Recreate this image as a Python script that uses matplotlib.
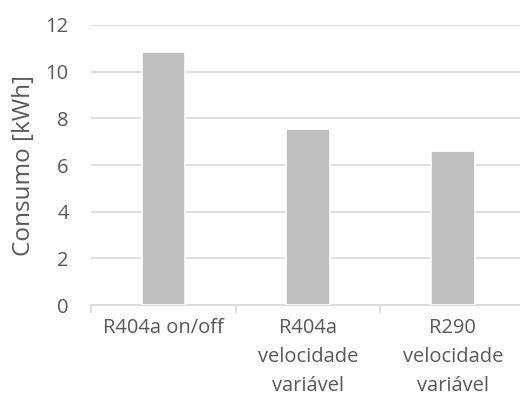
import matplotlib.pyplot as plt
import numpy as np

# consumption per configuration
categorias = ["R404a on/off", "R404a\nvelocidade\nvariável", "R290\nvelocidade\nvariável"]
consumo = [10.83, 7.54, 6.58]
yticks = [0, 2, 4, 6, 8, 10, 12]

TEXT = "#595959"
GRID = "#d9d9d9"
BAR = "#bfbfbf"

plt.rcParams["font.family"] = ["Open Sans", "DejaVu Sans"]

fig = plt.figure(figsize=(5.2, 4.03), dpi=100)
ax = fig.add_axes([0.175, 0.243, 0.835, 0.695])

x = np.arange(len(categorias))
ax.bar(x, consumo, width=0.3, color=BAR, edgecolor="white", linewidth=1.2, zorder=3)

ax.set_xlim(-0.5, len(categorias) - 0.5)
ax.set_ylim(0, 12)
ax.set_yticks(yticks)
ax.yaxis.grid(True, color=GRID, linewidth=1.2, zorder=0)
ax.set_axisbelow(True)

for s in ["top", "right", "left"]:
    ax.spines[s].set_visible(False)
ax.spines["bottom"].set_color(GRID)
ax.spines["bottom"].set_linewidth(1.2)

ax.set_xticks(x)
ax.set_xticklabels(categorias, fontsize=14.5, color=TEXT, linespacing=1.6, va="top")
ax.tick_params(axis="x", length=0, pad=9)
# category separators below the axis
ax.set_xticks(np.arange(len(categorias)) - 0.5, minor=True)
ax.tick_params(axis="x", which="minor", length=6, width=1.2, color=GRID)

ax.tick_params(axis="y", length=0, pad=16, labelsize=14.5, labelcolor=TEXT)
ax.set_ylabel("Consumo [kWh]", fontsize=17.5, color=TEXT, labelpad=7)

fig.savefig("out.png", dpi=100)
